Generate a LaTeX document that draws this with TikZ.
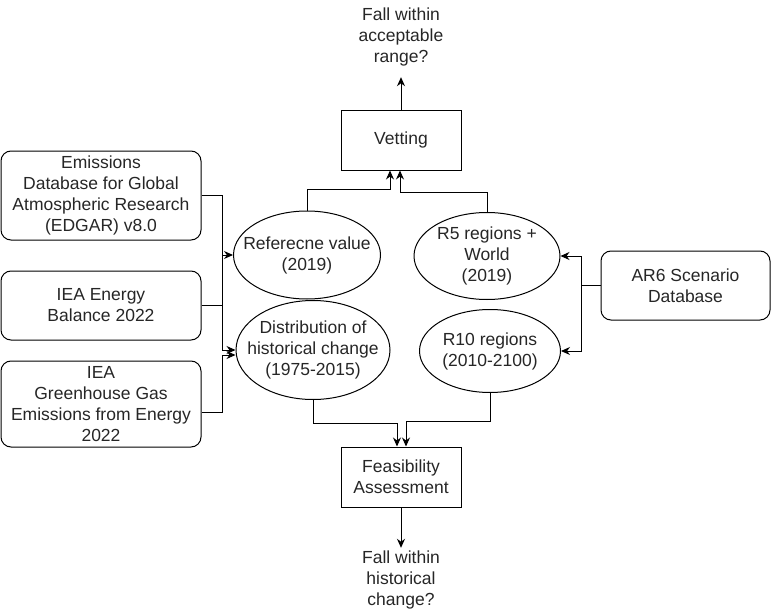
\documentclass[tikz,border=0pt]{standalone}
\usepackage{fontspec}
\setmainfont{Liberation Sans}
\usetikzlibrary{shapes.geometric,arrows.meta,calc}
\begin{document}
\begin{tikzpicture}[x=1pt,y=-1pt,
  every node/.style={font=\fontsize{17.5}{21}\selectfont, align=center, inner sep=0pt, text=black!85},
  src/.style={draw, rounded corners=10pt, minimum width=200pt, line width=1pt},
  proc/.style={draw, minimum width=120pt, minimum height=60pt, line width=1pt},
  ell/.style={draw, ellipse, line width=1pt},
  lbl/.style={minimum height=64pt},
  conn/.style={draw, line width=1pt, -{Stealth[length=9pt,width=8pt]}},
  plain/.style={draw, line width=1pt}]
\useasboundingbox (0,0) rectangle (772,613);

% source boxes
\node[src, minimum height=89pt] (box1) at (101,195.5) {Emissions\\Database for Global\\Atmospheric Research\\(EDGAR) v8.0};
\node[src, minimum height=69pt] (box2) at (101,305.5) {IEA Energy\\Balance 2022};
\node[src, minimum height=86pt] (box3) at (101,404) {IEA\\Greenhouse Gas\\Emissions from Energy\\2022};
\node[src, minimum width=169pt, minimum height=69pt] (ar6) at (685.5,285.5) {AR6 Scenario\\Database};

% ellipses (outline) and their texts
\node[ell, minimum width=147pt, minimum height=88pt] (ref) at (307,255) {};
\node (reftxt) at (ref.center) {Referecne value\\(2019)};
\node[ell, minimum width=154pt, minimum height=99pt] (dist) at (313,350) {};
\node (disttxt) at (dist.center) {Distribution of\\historical change\\(1975-2015)};
\node[ell, minimum width=146pt, minimum height=87pt] (r5) at (487,256) {};
\node (r5txt) at (r5.center) {R5 regions +\\World\\(2019)};
\node[ell, minimum width=141pt, minimum height=83pt] (r10) at (490,351) {};
\node (r10txt) at (r10.center) {R10 regions\\(2010-2100)};

% process boxes
\node[proc] (vet) at (401,140) {Vetting};
\node[proc] (feas) at (401,477) {Feasibility\\Assessment};

% outcome labels
\node[lbl, minimum height=80pt] (toplbl) at (401,37) {Fall within\\acceptable\\range?};
\node[lbl] (botlbl) at (401,580) {Fall within\\historical\\change?};

% left connectors
\coordinate (lbus) at (222,195.5);
\path[conn] (box1.east) -- (lbus) |- (ref.west);
\path[conn] (lbus) |- (dist.west);
\path[plain] (box2.east) -- (lbus |- box2.east);
\path[conn] ([yshift=-8pt]box3.east) -- (222,412) |- ([yshift=-5pt]dist.west);

% right connectors
\coordinate (rbus) at (581,285.5);
\path[plain] (ar6.west) -- (rbus);
\path[conn] (rbus) |- (r5.east);
\path[conn] (rbus) |- (r10.east);

% to vetting
\path[conn] (ref.north) -- ++(0,-21) -| ([xshift=-11pt]vet.south);
\path[conn] (r5.north) -- ++(0,-20) -| ([xshift=-1pt]vet.south);
\path[conn] (vet.north) -- (toplbl.south);

% to feasibility
\path[conn] (dist.south) -- (313,423) -| ([xshift=-4pt]feas.north);
\path[conn] (r10.south) -- (490,421) -| ([xshift=5pt]feas.north);
\path[conn] (feas.south) -- (botlbl.north);
\end{tikzpicture}
\end{document}
